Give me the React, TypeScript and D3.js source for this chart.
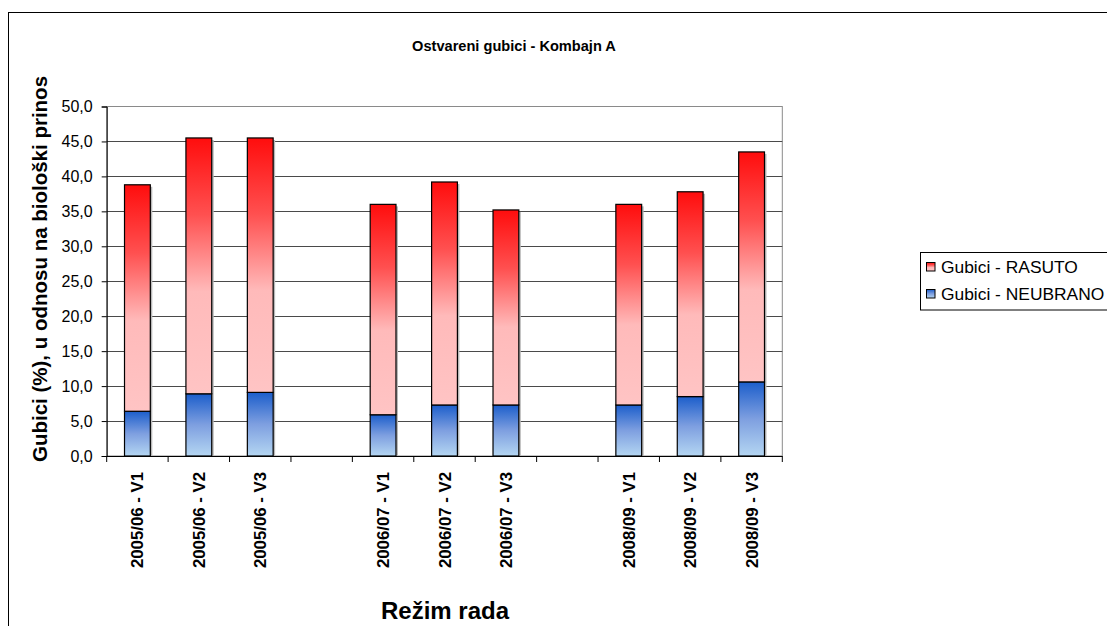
import React, { useEffect, useRef } from 'react';
import * as d3 from 'd3';

// categories (empty strings are the spacer slots between seasons)
const categories = [
  '2005/06 - V1', '2005/06 - V2', '2005/06 - V3', '',
  '2006/07 - V1', '2006/07 - V2', '2006/07 - V3', '',
  '2008/09 - V1', '2008/09 - V2', '2008/09 - V3',
];
const neubrano = [6.4, 8.9, 9.1, 0, 5.9, 7.3, 7.3, 0, 7.3, 8.5, 10.6];
const rasuto = [32.4, 36.6, 36.4, 0, 30.1, 31.9, 27.9, 0, 28.7, 29.3, 32.9];
const seriesNames = ['Gubici - RASUTO', 'Gubici - NEUBRANO'];
const yTicks = [0, 5, 10, 15, 20, 25, 30, 35, 40, 45, 50];

const FONT = '"Liberation Sans", Arial, sans-serif';

const App: React.FC = () => {
  const ref = useRef<SVGSVGElement | null>(null);

  useEffect(() => {
    const W = 1107, H = 626;
    const svg = d3.select(ref.current).attr('width', W).attr('height', H);
    svg.selectAll('*').remove();

    const left = 106.7, right = 782.3, top = 106.5, bottom = 456;

    const defs = svg.append('defs');
    const red = defs.append('linearGradient').attr('id', 'gRed')
      .attr('x1', 0).attr('y1', 0).attr('x2', 0).attr('y2', 1);
    [[0, '#ff0d0d'], [0.3, '#ff5050'], [0.6, '#ffbaba'], [1, '#ffc4c4']].forEach(([o, c]) =>
      red.append('stop').attr('offset', o as number).attr('stop-color', c as string));
    const blue = defs.append('linearGradient').attr('id', 'gBlue')
      .attr('x1', 0).attr('y1', 0).attr('x2', 0).attr('y2', 1);
    [[0, '#1c5ecb'], [0.5, '#7e9fe0'], [1, '#b4d6f2']].forEach(([o, c]) =>
      blue.append('stop').attr('offset', o as number).attr('stop-color', c as string));

    // outer chart frame (runs off the page at right and bottom)
    svg.append('rect').attr('x', 8.5).attr('y', 12.5).attr('width', 1200).attr('height', 700)
      .attr('fill', '#fff').attr('stroke', '#000');

    const x = d3.scaleBand<number>().domain(d3.range(categories.length)).range([left, right]).padding(0);
    const y = d3.scaleLinear().domain([0, 50]).range([bottom, top]);
    const barW = x.bandwidth() * 0.42;

    // plot border + grid
    svg.append('rect').attr('x', left).attr('y', top).attr('width', right - left).attr('height', bottom - top)
      .attr('fill', '#fff').attr('stroke', '#8a8a8a');
    svg.append('g').selectAll('line').data(yTicks.filter(t => t > 0 && t < 50)).enter().append('line')
      .attr('x1', left).attr('x2', right)
      .attr('y1', d => Math.round(y(d)) + 0.5).attr('y2', d => Math.round(y(d)) + 0.5)
      .attr('stroke', '#4a4a4a').attr('stroke-width', 1);

    const rows = categories.map((c, i) => ({ i, NEUBRANO: neubrano[i], RASUTO: rasuto[i] }));
    const stacked = d3.stack<any>().keys(['NEUBRANO', 'RASUTO'])(rows);
    const fills: Record<string, string> = { NEUBRANO: 'url(#gBlue)', RASUTO: 'url(#gRed)' };

    // shadows
    svg.append('g').selectAll('rect').data(rows.filter(r => r.NEUBRANO + r.RASUTO > 0)).enter().append('rect')
      .attr('x', d => (x(d.i) as number) + x.bandwidth() / 2 - barW / 2 + 2)
      .attr('y', d => y(d.NEUBRANO + d.RASUTO) + 2)
      .attr('width', barW).attr('height', d => bottom - y(d.NEUBRANO + d.RASUTO) - 2)
      .attr('fill', '#b8b8b8');

    stacked.forEach(s => {
      svg.append('g').selectAll('rect').data(s.filter(d => d[1] - d[0] > 0)).enter().append('rect')
        .attr('x', d => (x(d.data.i) as number) + x.bandwidth() / 2 - barW / 2)
        .attr('y', d => y(d[1]))
        .attr('width', barW)
        .attr('height', d => y(d[0]) - y(d[1]))
        .attr('fill', fills[s.key])
        .attr('stroke', '#000').attr('stroke-width', 1.2);
    });

    // y axis
    const yAxis = svg.append('g').attr('transform', `translate(${left},0)`)
      .call(d3.axisLeft(y).tickValues(yTicks).tickSize(5).tickPadding(9)
        .tickFormat(d => (d as number).toFixed(1).replace('.', ',')));
    yAxis.select('.domain').attr('stroke', '#000');
    yAxis.selectAll('line').attr('stroke', '#000');
    yAxis.selectAll('text').attr('font-family', FONT).attr('font-size', 16).attr('fill', '#000');

    // x axis
    svg.append('line').attr('x1', left).attr('x2', right).attr('y1', bottom + 0.5).attr('y2', bottom + 0.5)
      .attr('stroke', '#000');
    svg.append('g').selectAll('line').data(d3.range(categories.length + 1)).enter().append('line')
      .attr('x1', d => left + d * x.step()).attr('x2', d => left + d * x.step())
      .attr('y1', bottom).attr('y2', bottom + 6).attr('stroke', '#000');
    svg.append('g').selectAll('text').data(rows.filter(r => categories[r.i] !== '')).enter().append('text')
      .attr('transform', d => `translate(${(x(d.i) as number) + x.bandwidth() / 2 + 6},472) rotate(-90)`)
      .attr('text-anchor', 'end').attr('font-family', FONT).attr('font-weight', 'bold').attr('font-size', 16.8)
      .text(d => categories[d.i]);

    // titles
    svg.append('text').attr('x', 514).attr('y', 51).attr('text-anchor', 'middle')
      .attr('font-family', FONT).attr('font-weight', 'bold').attr('font-size', 14.6)
      .text('Ostvareni gubici - Kombajn A');
    svg.append('text').attr('transform', 'translate(47,269) rotate(-90)').attr('text-anchor', 'middle')
      .attr('font-family', FONT).attr('font-weight', 'bold').attr('font-size', 20.5)
      .text('Gubici (%), u odnosu na biološki prinos');
    svg.append('text').attr('x', 445).attr('y', 619).attr('text-anchor', 'middle')
      .attr('font-family', FONT).attr('font-weight', 'bold').attr('font-size', 24)
      .text('Režim rada');

    // legend
    const lg = svg.append('g');
    lg.append('rect').attr('x', 920.5).attr('y', 252.5).attr('width', 220).attr('height', 57.5)
      .attr('fill', '#fff').attr('stroke', '#000');
    seriesNames.forEach((name, k) => {
      const cy = 267 + k * 27;
      lg.append('rect').attr('x', 926.5).attr('y', cy - 4.5).attr('width', 8.5).attr('height', 8.5)
        .attr('fill', k === 0 ? 'url(#gRed)' : 'url(#gBlue)').attr('stroke', '#000');
      lg.append('text').attr('x', 941).attr('y', cy).attr('dy', '0.36em')
        .attr('font-family', FONT).attr('font-size', 17.4).text(name);
    });
  }, []);

  return <svg ref={ref} style={{ position: 'absolute', left: 0, top: 0 }}></svg>;
};

export default App;
